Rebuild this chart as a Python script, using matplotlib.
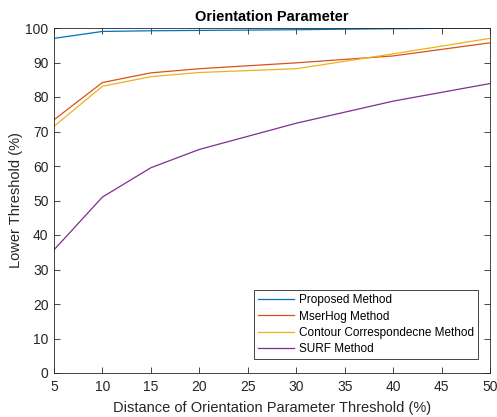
import matplotlib
matplotlib.use("Agg")
import matplotlib.pyplot as plt

plt.rcParams['font.family'] = ['Liberation Sans', 'DejaVu Sans']

x = [5, 10, 15, 20, 30, 40, 50]
proposed = [97.0, 99.0, 99.2, 99.3, 99.5, 99.8, 100.0]
mserhog = [73.4, 84.2, 87.0, 88.2, 89.9, 91.9, 95.7]
contour = [71.5, 83.1, 85.9, 87.1, 88.2, 92.5, 97.0]
surf = [35.7, 51.0, 59.5, 64.8, 72.4, 78.8, 83.9]
labels = ['Proposed Method', 'MserHog Method', 'Contour Correspondecne Method', 'SURF Method']
colors = ['#0072BD', '#D95319', '#EDB120', '#7E2F8E']
xticks = list(range(5, 51, 5))
yticks = list(range(0, 101, 10))

fig = plt.figure(figsize=(4.97, 4.17), dpi=100)
ax = fig.add_axes([54/497, 44/417, 436/497, 345/417])
for ys, lab, c in zip([proposed, mserhog, contour, surf], labels, colors):
    ax.plot(x, ys, color=c, lw=0.9, label=lab)

ax.set_xlim(5, 50)
ax.set_ylim(0, 100)
ax.set_xticks(xticks)
ax.set_yticks(yticks)
ax.tick_params(direction='in', length=4, width=0.6, labelsize=10, colors='#262626', top=True, right=True)
ax.tick_params(axis='x', pad=5)
ax.tick_params(axis='y', pad=4)
for s in ax.spines.values():
    s.set_linewidth(0.6)
    s.set_color('#262626')
ax.set_xlabel('Distance of Orientation Parameter Threshold (%)', fontsize=10.5, color='#262626', labelpad=5)
ax.set_ylabel('Lower Threshold (%)', fontsize=10.5, color='#262626')
ax.yaxis.set_label_coords(-31/436, 0.5)
ax.set_title('Orientation Parameter', fontsize=10.5, fontweight='bold', pad=5)
leg = ax.legend(loc='lower right', bbox_to_anchor=((478 - 54) / 436, 14/345), fontsize=8.5, fancybox=False,
                framealpha=1, edgecolor='#262626', borderpad=0.35, labelspacing=0.35,
                handlelength=3.0, handletextpad=0.45, borderaxespad=0.0)
leg.get_frame().set_linewidth(0.6)
fig.savefig('out.png', dpi=100)
